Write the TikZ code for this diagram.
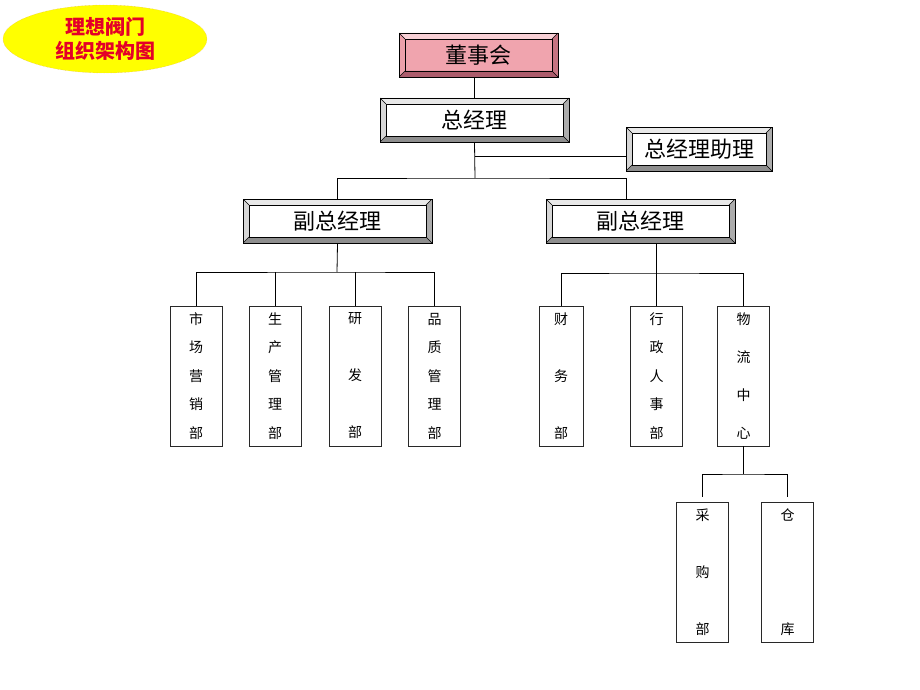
\documentclass[tikz,border=0pt]{standalone}
\usepackage{fontspec}
\setmainfont{Noto Sans CJK SC}
\usepackage{tikz}
\usetikzlibrary{shapes.geometric,calc}
\definecolor{titlered}{RGB}{228,0,40}
\definecolor{titlefill}{RGB}{255,255,0}
\definecolor{titleedge}{RGB}{226,170,96}
\definecolor{pkface}{RGB}{240,164,174}
\definecolor{pktop}{RGB}{248,208,214}
\definecolor{pkleft}{RGB}{236,160,170}
\definecolor{pkright}{RGB}{198,116,130}
\definecolor{pkbot}{RGB}{172,92,108}
\definecolor{gytop}{RGB}{232,232,232}
\definecolor{gyleft}{RGB}{214,214,214}
\definecolor{gyright}{RGB}{172,172,172}
\definecolor{gybot}{RGB}{142,142,142}
\definecolor{lineg}{RGB}{40,40,40}
\tikzset{
  bevel/.style={draw=black,line width=0.7pt,inner sep=0,minimum height=44,
    font=\fontsize{22}{24}\selectfont,
    path picture={
      \coordinate (nw) at (path picture bounding box.north west);
      \coordinate (se) at (path picture bounding box.south east);
      \coordinate (ne) at (nw -| se);
      \coordinate (sw) at (nw |- se);
      \coordinate (inw) at ($(nw)+(6pt,-6pt)$);
      \coordinate (ine) at ($(ne)+(-6pt,-6pt)$);
      \coordinate (ise) at ($(se)+(-6pt,6pt)$);
      \coordinate (isw) at ($(sw)+(6pt,6pt)$);
      \fill[#1top]   (nw) -- (ne) -- (ine) -- (inw) -- cycle;
      \fill[#1right] (ne) -- (se) -- (ise) -- (ine) -- cycle;
      \fill[#1bot]   (se) -- (sw) -- (isw) -- (ise) -- cycle;
      \fill[#1left]  (sw) -- (nw) -- (inw) -- (isw) -- cycle;
      \draw[line width=0.6pt] (inw) rectangle (ise);
      \draw[line width=0.5pt] (nw) -- (inw) (ne) -- (ine) (se) -- (ise) (sw) -- (isw);
    }},
  chief/.style={bevel=pk,fill=pkface},
  mgr/.style={bevel=gy,fill=white},
  dept/.style={draw=lineg,line width=0.8pt,fill=white,minimum width=52,
    minimum height=140,inner sep=0,align=center},
  lsp/.style={font=\fontsize{14}{#1}\selectfont},
  link/.style={draw=black,line width=0.8pt},
}

\begin{document}
\begin{tikzpicture}[x=1pt,y=-1pt]
  \useasboundingbox (0,0) rectangle (920,690);

  % --- title ---------------------------------------------------------------
  \node[ellipse,draw=titleedge,densely dotted,fill=titlefill,minimum width=204,
        minimum height=68,inner sep=0,align=center,text=titlered,
        font=\fontsize{20}{24}\selectfont\bfseries] (title) at (105,39)
        {理想阀门\\组织架构图};

  % --- management ----------------------------------------------------------
  \node[chief,minimum width=159] (dsh)   at (478.5,55)  {董事会};
  \node[mgr,minimum width=189]   (zjl)   at (474.5,120) {总经理};
  \node[mgr,minimum width=146]   (zjlzl) at (699,149)   {总经理助理};
  \node[mgr,minimum width=189]   (fzl1)  at (337.5,221) {副总经理};
  \node[mgr,minimum width=189]   (fzl2)  at (640.5,221) {副总经理};

  % --- departments ---------------------------------------------------------
  \node[dept,lsp=28.5] (scyx) at (196,376)   {市\\场\\营\\销\\部};
  \node[dept,lsp=28.5] (scgl) at (275,376)   {生\\产\\管\\理\\部};
  \node[dept,lsp=57]   (yf)   at (355,376)   {研\\发\\部};
  \node[dept,lsp=28.5] (pzgl) at (434.5,376) {品\\质\\管\\理\\部};

  \node[dept,lsp=57,minimum width=44] (cw) at (561,376) {财\\务\\部};
  \node[dept,lsp=28.5] (xzrs) at (656.5,376) {行\\政\\人\\事\\部};
  \node[dept,lsp=38]   (wlzx) at (743.5,376) {物\\流\\中\\心};

  \node[dept,lsp=57]   (cgb)  at (702.5,572) {采\\购\\部};
  \node[dept,lsp=114]  (ck)   at (787.5,572) {仓\\库};

  % --- links ---------------------------------------------------------------
  \coordinate (hub0) at (475,178);
  \coordinate (zlin) at ([yshift=-7pt]zjlzl.west);
  \draw[link] (dsh.south -| zjl) -- (zjl.north);
  \draw[link] (zjl.south) -- (hub0);
  \draw[link] (zlin) -- (zlin -| zjl.south);
  \draw[link] (fzl1.north) |- (hub0) -| ([xshift=-14pt]fzl2.north);

  % left branch
  \coordinate (hub1) at (337,272);
  \draw[link] (fzl1.south) -- (hub1);
  \draw[link] (scyx.north) |- (hub1) -| (pzgl.north);
  \foreach \d in {scgl,yf} \draw[link] (\d.north) -- (\d.north |- hub1);

  % right branch
  \coordinate (hub2) at (656,273);
  \draw[link] (fzl2.south -| xzrs.north) -- (xzrs.north);
  \draw[link] (cw.north) |- (hub2) -| (wlzx.north);

  % logistics
  \coordinate (hub3) at (742,474);
  \draw[link] (wlzx.south) -- (wlzx.south |- hub3);
  \draw[link,shorten <=5pt,shorten >=5pt] (cgb.north) |- (hub3) -| (ck.north);
\end{tikzpicture}
\end{document}
